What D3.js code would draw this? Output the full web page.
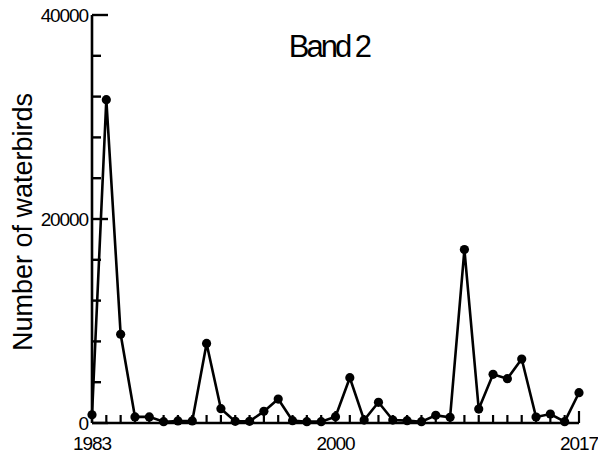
<!DOCTYPE html>
<html>
<head>
<meta charset="utf-8">
<script src="https://cdn.jsdelivr.net/npm/d3@7"></script>
<style>
  html, body { margin: 0; padding: 0; background: #fff; }
  svg { display: block; }
  text { font-family: "Liberation Sans", Arial, sans-serif; fill: #000; }
</style>
</head>
<body>
<script>
const years = d3.range(1983, 2018);
const counts = [800, 31700, 8700, 600, 600, 130, 200, 200, 7800, 1400,
                160, 160, 1140, 2350, 230, 130, 130, 620, 4440, 290,
                2030, 290, 230, 130, 750, 560, 17000, 1370, 4770, 4350,
                6270, 590, 880, 130, 2970];
const yTickLabels = [0, 20000, 40000];
const xTickLabels = [1983, 2000, 2017];
const title = "Band 2";
const yLabel = "Number of waterbirds";

const W = 598, H = 458;
const svg = d3.select("body").append("svg").attr("width", W).attr("height", H);

const x = d3.scaleLinear().domain([1983, 2017]).range([92, 579]);
const y = d3.scaleLinear().domain([0, 40000]).range([423, 15]);

const data = years.map((yr, i) => ({ yr, v: counts[i] }));

// Y axis
const yAxis = svg.append("g").attr("transform", `translate(${x(1983)},0)`);
yAxis.append("line").attr("x1", 0).attr("x2", 0).attr("y1", y(40000)).attr("y2", y(0))
  .attr("stroke", "#000").attr("stroke-width", 2.6);
const yTicks = d3.range(0, 40001, 4000);
yAxis.selectAll("line.tick").data(yTicks).join("line").attr("class", "tick")
  .attr("x1", 0).attr("x2", d => yTickLabels.includes(d) ? 16 : 9)
  .attr("y1", d => y(d)).attr("y2", d => y(d))
  .attr("stroke", "#000").attr("stroke-width", 2.4);
yAxis.selectAll("text").data(yTickLabels).join("text")
  .attr("x", -4).attr("y", d => y(d)).attr("dy", "0.36em")
  .attr("text-anchor", "end").attr("font-size", 19).attr("letter-spacing", -1.1)
  .text(d => d);

// X axis
const xAxis = svg.append("g").attr("transform", `translate(0,${y(0)})`);
xAxis.append("line").attr("x1", x(1983)).attr("x2", x(2017)).attr("y1", 0).attr("y2", 0)
  .attr("stroke", "#000").attr("stroke-width", 2.6);
xAxis.selectAll("line.tick").data(years.slice(1)).join("line").attr("class", "tick")
  .attr("x1", d => x(d)).attr("x2", d => x(d))
  .attr("y1", 0).attr("y2", d => xTickLabels.includes(d) ? -12 : -8)
  .attr("stroke", "#000").attr("stroke-width", 2.2);
xAxis.selectAll("text").data(xTickLabels).join("text")
  .attr("x", d => x(d)).attr("y", 27)
  .attr("text-anchor", "middle").attr("font-size", 19).attr("letter-spacing", -1.1)
  .text(d => d);

// Line
const line = d3.line().x(d => x(d.yr)).y(d => y(d.v));
svg.append("path").datum(data).attr("d", line)
  .attr("fill", "none").attr("stroke", "#000").attr("stroke-width", 2.6)
  .attr("stroke-linejoin", "miter");

svg.selectAll("circle").data(data).join("circle")
  .attr("cx", d => x(d.yr)).attr("cy", d => y(d.v)).attr("r", 4.6).attr("fill", "#000");

// Title
svg.append("text").attr("x", 329).attr("y", 57).attr("text-anchor", "middle")
  .attr("font-size", 31).attr("letter-spacing", -3).text(title);

// Y label
svg.append("text").attr("transform", `translate(32,222) rotate(-90)`)
  .attr("text-anchor", "middle").attr("font-size", 27).text(yLabel);
</script>
</body>
</html>
